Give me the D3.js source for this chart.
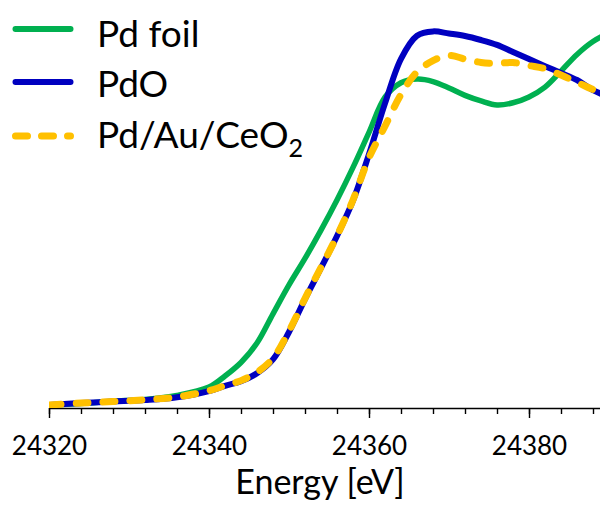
<!DOCTYPE html>
<html>
<head>
<meta charset="utf-8">
<script src="https://cdn.jsdelivr.net/npm/d3@7"></script>
<style>
  html, body { margin: 0; padding: 0; background: #fff; }
  svg { display: block; }
  text { font-family: Lato, "Open Sans", sans-serif; fill: #000; }
</style>
</head>
<body>
<svg id="chart" width="600" height="505"></svg>
<script>
// Pd K-edge XANES, normalized absorption vs photon energy
const energy = [24320, 24324, 24328, 24332, 24336, 24340, 24342, 24344, 24346, 24348,
                24350, 24352, 24354, 24356, 24358, 24360, 24362, 24364, 24366, 24368,
                24370, 24372, 24374, 24376, 24378, 24380, 24382, 24384, 24386, 24388, 24390];

const pdFoil = [0.010, 0.015, 0.022, 0.028, 0.041, 0.068, 0.104, 0.148, 0.211, 0.306,
                0.400, 0.486, 0.578, 0.676, 0.782, 0.896, 1.010, 1.057, 1.069, 1.061,
                1.040, 1.016, 0.998, 0.985, 0.992, 1.011, 1.043, 1.095, 1.149, 1.191, 1.219];

const pdO = [0.010, 0.016, 0.021, 0.026, 0.035, 0.055, 0.072, 0.087, 0.113, 0.158,
             0.247, 0.354, 0.455, 0.559, 0.674, 0.825, 0.990, 1.135, 1.210, 1.224,
             1.217, 1.209, 1.196, 1.180, 1.157, 1.134, 1.111, 1.089, 1.066, 1.033, 1.011];

const pdAuCeO2 = [0.010, 0.016, 0.021, 0.027, 0.036, 0.056, 0.073, 0.089, 0.116, 0.162,
                  0.250, 0.356, 0.457, 0.559, 0.676, 0.813, 0.916, 1.019, 1.092, 1.129,
                  1.146, 1.134, 1.123, 1.120, 1.123, 1.113, 1.103, 1.082, 1.059, 1.035, 1.017];

const majorTicks = [24320, 24340, 24360, 24380];
const minorTicks = d3.range(24320, 24391, 4);
const axisTitle = "Energy [eV]";

const seriesNames = ["Pd foil", "PdO", "Pd/Au/CeO"];
const seriesColors = ["#00B050", "#0000C0", "#FFC000"];

const svg = d3.select("#chart");
const W = 600, H = 505;

const x = d3.scaleLinear().domain([24320, 24390]).range([49, 609]);
const y = d3.scaleLinear().domain([0, 1.3]).range([408, 8]);

svg.append("defs").append("clipPath").attr("id", "plotClip")
  .append("rect").attr("x", 49).attr("y", 0).attr("width", W - 49).attr("height", 408);

// x axis: minor ticks every 4 eV, major (labelled) every 20 eV
const axisY = 408;
svg.append("g")
  .attr("transform", `translate(0,${axisY})`)
  .call(d3.axisBottom(x).tickValues(minorTicks).tickSize(6).tickSizeOuter(0).tickFormat(""))
  .call(g => g.select(".domain").attr("stroke", "#000").attr("stroke-width", 1.4))
  .call(g => g.selectAll(".tick line").attr("stroke", "#000").attr("stroke-width", 1.4));

svg.append("g")
  .attr("transform", `translate(0,${axisY})`)
  .call(d3.axisBottom(x).tickValues(majorTicks).tickSize(10).tickSizeOuter(0).tickFormat(d3.format("d")))
  .call(g => g.select(".domain").remove())
  .call(g => g.selectAll(".tick line").attr("stroke", "#000").attr("stroke-width", 1.4))
  .call(g => g.selectAll(".tick text")
      .attr("y", 47).attr("dy", null)
      .attr("font-size", 26)
      .style("font-family", "Lato, 'Open Sans', sans-serif")
      .attr("fill", "#000"));

svg.append("text")
  .attr("x", 320).attr("y", 494)
  .attr("text-anchor", "middle")
  .attr("font-size", 34)
  .text(axisTitle);

// spectra
const line = d3.line()
  .x((d, i) => x(energy[i]))
  .y(d => y(d))
  .curve(d3.curveCatmullRom.alpha(0.5));

const plot = svg.append("g").attr("clip-path", "url(#plotClip)");

plot.append("path").datum(pdFoil)
  .attr("fill", "none").attr("stroke", seriesColors[0])
  .attr("stroke-width", 5.5).attr("stroke-linejoin", "round")
  .attr("d", line);

plot.append("path").datum(pdO)
  .attr("fill", "none").attr("stroke", seriesColors[1])
  .attr("stroke-width", 6).attr("stroke-linejoin", "round")
  .attr("d", line);

plot.append("path").datum(pdAuCeO2)
  .attr("fill", "none").attr("stroke", seriesColors[2])
  .attr("stroke-width", 7).attr("stroke-linecap", "round")
  .attr("stroke-dasharray", "12,15")
  .attr("d", line);

// legend
const legendRows = [29, 82, 136];
const legendBaselines = [47, 97, 148];
const legend = svg.append("g");
seriesNames.forEach((name, i) => {
  const ln = legend.append("line")
    .attr("x1", 15.5).attr("x2", 70.5)
    .attr("y1", legendRows[i]).attr("y2", legendRows[i])
    .attr("stroke", seriesColors[i])
    .attr("stroke-width", i === 2 ? 7 : 6)
    .attr("stroke-linecap", "round");
  if (i === 2) ln.attr("stroke-dasharray", "12,14");
  const t = legend.append("text")
    .attr("x", 97).attr("y", legendBaselines[i])
    .attr("font-size", 37)
    .text(name);
  if (i === 2) {
    t.append("tspan").attr("font-size", 25).attr("dy", 9).text("2");
  }
});
</script>
</body>
</html>
